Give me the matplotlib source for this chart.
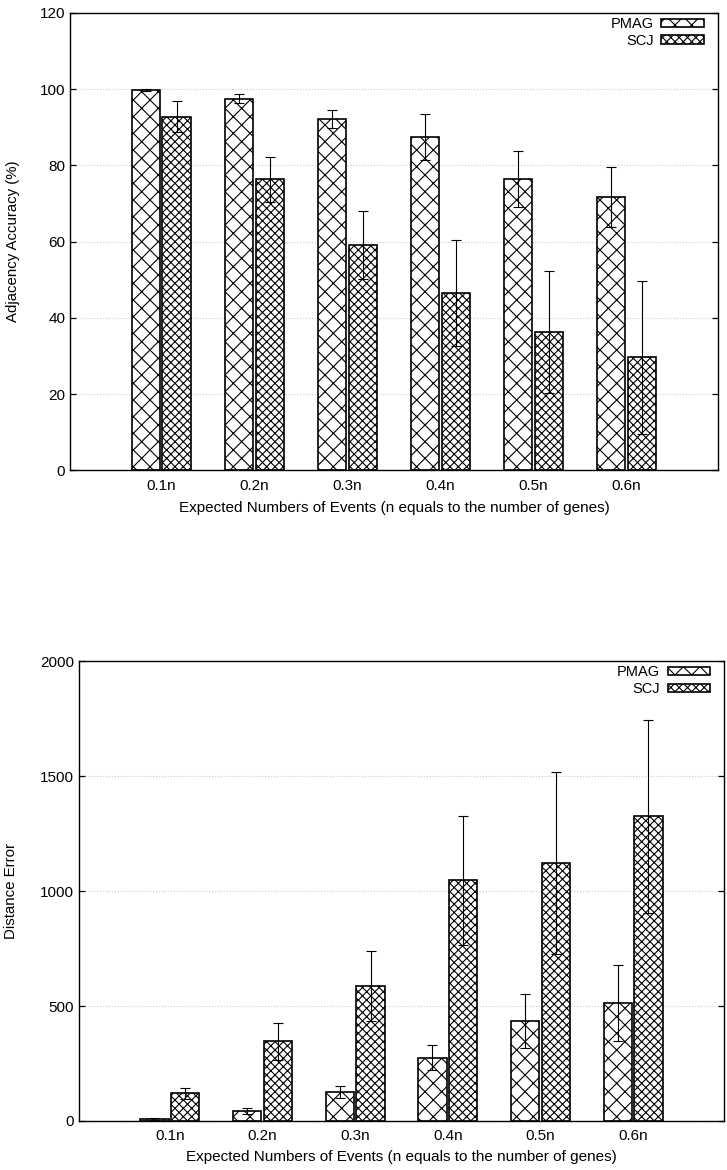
import matplotlib
matplotlib.use('Agg')
import matplotlib.pyplot as plt
import numpy as np

plt.rcParams['font.family'] = ['Liberation Sans', 'DejaVu Sans']
plt.rcParams['hatch.linewidth'] = 0.8

groups = ['0.1n', '0.2n', '0.3n', '0.4n', '0.5n', '0.6n']

# adjacency accuracy (%)
acc_pmag = [99.7, 97.5, 92.2, 87.5, 76.5, 71.7]
acc_pmag_err = [0.2, 1.2, 2.4, 6.1, 7.3, 8.0]
acc_scj = [92.8, 76.3, 59.0, 46.5, 36.3, 29.6]
acc_scj_err = [4.1, 6.0, 8.9, 13.9, 16.1, 20.0]

# distance error
dist_pmag = [9, 43, 127, 275, 434, 512]
dist_pmag_err = [3, 12, 27, 55, 117, 166]
dist_scj = [120, 347, 586, 1046, 1122, 1325]
dist_scj_err = [24, 81, 153, 282, 397, 420]

xlabel = 'Expected Numbers of Events (n equals to the number of genes)'

fig = plt.figure(figsize=(7.27, 11.70), dpi=100)
ax1 = fig.add_axes([0.0963, 0.598, 0.891, 0.391])
ax2 = fig.add_axes([0.1087, 0.0419, 0.887, 0.393])


def draw(ax, pm, pm_err, sc, sc_err, ymax, ystep, ylabel, lpad, xpad):
    x = np.arange(len(groups))
    w = 0.305
    off = 0.166
    ax.bar(x - off, pm, w, color='white', edgecolor='black', hatch='xx',
           linewidth=1.2, label='PMAG', zorder=2)
    ax.bar(x + off, sc, w, color='white', edgecolor='black', hatch='xxxx',
           linewidth=1.2, label='SCJ', zorder=2)
    ax.errorbar(x - off, pm, yerr=pm_err, fmt='none', ecolor='black',
                elinewidth=0.8, capsize=3.6, capthick=0.8, zorder=3)
    ax.errorbar(x + off, sc, yerr=sc_err, fmt='none', ecolor='black',
                elinewidth=0.8, capsize=3.6, capthick=0.8, zorder=3)
    ax.set_xlim(-0.98, 5.98)
    ax.set_ylim(0, ymax)
    ax.set_xticks(x)
    ax.set_xticklabels(groups)
    ax.set_yticks(np.arange(0, ymax + 1, ystep))
    ax.tick_params(axis='x', length=0, labelsize=11, pad=6)
    ax.tick_params(axis='y', direction='in', length=4.3, width=0.9,
                   right=True, labelsize=11)
    ax.yaxis.grid(True, linestyle=':', color='#cccccc', linewidth=0.8)
    ax.set_axisbelow(True)
    for s in ax.spines.values():
        s.set_linewidth(1.0)
    ax.set_xlabel(xlabel, fontsize=11, labelpad=xpad)
    ax.set_ylabel(ylabel, fontsize=10.8, labelpad=lpad)
    w_px = ax.get_position().width * 727
    h_px = ax.get_position().height * 1170
    leg = ax.legend(loc='upper right', frameon=False, markerfirst=False,
                    fontsize=10.5, handlelength=2.9, handleheight=0.5,
                    labelspacing=0.2, borderaxespad=0, borderpad=0,
                    handletextpad=0.55,
                    bbox_to_anchor=(1 - 14 / w_px, 1 - 4 / h_px))
    for t in leg.get_texts():
        t.set_ha('right')


draw(ax1, acc_pmag, acc_pmag_err, acc_scj, acc_scj_err, 120, 20,
     'Adjacency Accuracy (%)', 14, 6)
draw(ax2, dist_pmag, dist_pmag_err, dist_scj, dist_scj_err, 2000, 500,
     'Distance Error', 16, 5)

fig.savefig('out.png', dpi=100)
